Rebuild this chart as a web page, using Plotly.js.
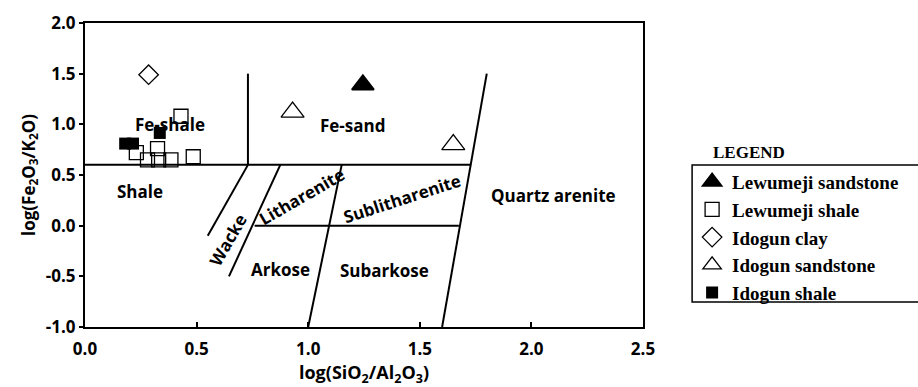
<!DOCTYPE html>
<html>
<head>
<meta charset="utf-8">
<script src="https://cdn.plot.ly/plotly-3.0.1.min.js"></script>
<style>html,body{margin:0;padding:0;background:#fff;}#chart{width:918px;height:387px;}</style>
</head>
<body>
<div id="chart"></div>
<script>
// ---- data ----
const lewSandX = [1.245];
const lewSandY = [1.39];
const lewShaleX = [0.43, 0.325, 0.23, 0.28, 0.33, 0.385, 0.485];
const lewShaleY = [1.08, 0.76, 0.72, 0.65, 0.65, 0.65, 0.68];
const idoClayX = [0.285];
const idoClayY = [1.49];
const idoSandX = [0.93, 1.65];
const idoSandY = [1.12, 0.80];
const idoShaleX = [0.18, 0.215, 0.335];
const idoShaleY = [0.81, 0.81, 0.915];

// classification boundary segments
const segX0 = [0.0, 0.73, 1.6, 1.0, 0.76, 0.55, 0.645];
const segY0 = [0.6, 0.6, -1.0, -1.0, 0.0, -0.1, -0.5];
const segX1 = [1.73, 0.73, 1.8, 1.15, 1.675, 0.73, 0.875];
const segY1 = [0.6, 1.5, 1.5, 0.6, 0.0, 0.6, 0.6];

// field labels
const fieldText = ["Fe-shale", "Shale", "Fe-sand", "Wacke", "Litharenite", "Sublitharenite", "Arkose", "Subarkose", "Quartz arenite"];
const fieldX = [0.38, 0.245, 1.20, 0.642, 0.97, 1.42, 0.875, 1.34, 2.10];
const fieldY = [1.0, 0.34, 0.99, -0.14, 0.29, 0.27, -0.43, -0.44, 0.30];
const fieldAngle = [0, 0, 0, -60, -30, -18, 0, 0, 0];

const xTickVals = [0, 0.5, 1.0, 1.5, 2.0, 2.5];
const xTickText = ["0.0", "0.5", "1.0", "1.5", "2.0", "2.5"];
const yTickVals = [-1, -0.5, 0, 0.5, 1.0, 1.5, 2.0];
const yTickText = ["-1.0", "-0.5", "0.0", "0.5", "1.0", "1.5", "2.0"];

const legendNames = ["Lewumeji sandstone", "Lewumeji shale", "Idogun clay", "Idogun sandstone", "Idogun shale"];

// ---- build ----
const fontSans = "Open Sans, DejaVu Sans, sans-serif";
const fontSerif = "Liberation Serif, Times New Roman, serif";

const traces = [
  {x: lewSandX, y: lewSandY, name: legendNames[0], legendgroup: "a", mode: "markers", type: "scatter",
   marker: {symbol: "triangle-up", size: 19, color: "#000", line: {color: "#000", width: 2}}},
  {x: lewShaleX, y: lewShaleY, name: legendNames[1], legendgroup: "b", mode: "markers", type: "scatter",
   marker: {symbol: "square-open", size: 14, color: "#000", line: {width: 1.3}}},
  {x: idoClayX, y: idoClayY, name: legendNames[2], legendgroup: "c", mode: "markers", type: "scatter",
   marker: {symbol: "diamond-open", size: 15, color: "#000", line: {width: 1.3}}},
  {x: idoSandX, y: idoSandY, name: legendNames[3], legendgroup: "d", mode: "markers", type: "scatter",
   marker: {symbol: "triangle-up-open", size: 20, color: "#000", line: {width: 1.3}}},
  {x: idoShaleX, y: idoShaleY, name: legendNames[4], legendgroup: "e", mode: "markers", type: "scatter",
   marker: {symbol: "square", size: 12, color: "#000"}}
];

const shapes = segX0.map((x0, i) => ({
  type: "line", xref: "x", yref: "y", x0: x0, y0: segY0[i], x1: segX1[i], y1: segY1[i],
  line: {color: "#000", width: 2}, layer: "below"
}));
// legend box (runs past right edge as in the reference)
shapes.push({type: "rect", xref: "paper", yref: "paper", x0: 1.088, x1: 1.52, y0: 0.082, y1: 0.533,
  line: {color: "#000", width: 1.5}, fillcolor: "rgba(0,0,0,0)"});

const annotations = fieldText.map((t, i) => ({
  x: fieldX[i], y: fieldY[i], xref: "x", yref: "y", text: t, showarrow: false,
  textangle: fieldAngle[i], font: {family: fontSans, size: 17, color: "#000", weight: "bold"}
}));
annotations.push({x: 1.258, y: 0.575, xref: "paper", yref: "paper", text: "LEGEND", showarrow: false,
  font: {family: fontSerif, size: 17, color: "#000", weight: "bold"}});

const layout = {
  width: 918, height: 387,
  margin: {l: 85, r: 275, t: 23, b: 60, pad: 0},
  paper_bgcolor: "#fff", plot_bgcolor: "#fff",
  showlegend: true,
  legend: {x: 1.088, y: 0.54, xanchor: "left", yanchor: "top", traceorder: "grouped", tracegroupgap: 0,
    font: {family: fontSerif, size: 19, color: "#000", weight: "bold"}, bgcolor: "rgba(0,0,0,0)", borderwidth: 0,
    itemsizing: "trace"},
  xaxis: {range: [0, 2.5], tickvals: xTickVals, ticktext: xTickText, ticks: "inside", ticklen: 5, tickwidth: 2,
    tickcolor: "#000", showgrid: false, zeroline: false, showline: true, linecolor: "#000", linewidth: 2, mirror: true,
    tickfont: {family: fontSans, size: 17, color: "#000", weight: "bold"}, ticklabelstandoff: 6,
    title: {text: "log(SiO<sub>2</sub>/Al<sub>2</sub>O<sub>3</sub>)", standoff: 6,
      font: {family: fontSans, size: 18, color: "#000", weight: "bold"}}},
  yaxis: {range: [-1, 2], tickvals: yTickVals, ticktext: yTickText, ticks: "outside", ticklen: 4, tickwidth: 2,
    tickcolor: "#000", showgrid: false, zeroline: false, showline: true, linecolor: "#000", linewidth: 2, mirror: true,
    tickfont: {family: fontSans, size: 17, color: "#000", weight: "bold"},
    title: {text: "log(Fe<sub>2</sub>O<sub>3</sub>/K<sub>2</sub>O)", standoff: 6,
      font: {family: fontSans, size: 17, color: "#000", weight: "bold"}}},
  shapes: shapes,
  annotations: annotations
};

Plotly.newPlot("chart", traces, layout, {displayModeBar: false, staticPlot: true});
</script>
</body>
</html>
